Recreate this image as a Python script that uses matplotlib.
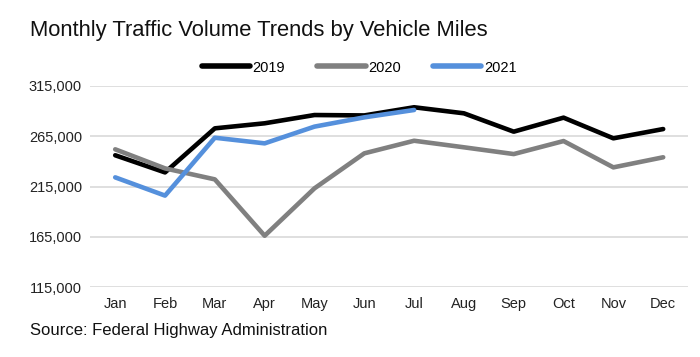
import matplotlib
matplotlib.use("Agg")
from matplotlib import pyplot as plt

months = ["Jan", "Feb", "Mar", "Apr", "May", "Jun",
          "Jul", "Aug", "Sep", "Oct", "Nov", "Dec"]
vmt_2019 = [246000, 229000, 272700, 277700, 285900, 285500,
            293600, 287600, 269400, 283300, 262800, 272000]
vmt_2020 = [251900, 233000, 222100, 166200, 213200, 247900,
            260400, 253900, 247200, 260100, 234000, 244000]
vmt_2021 = [224100, 206000, 263400, 257800, 274400, 283600, 290900]
yticks = [115000, 165000, 215000, 265000, 315000]

plt.rcParams["font.family"] = ["Liberation Sans", "DejaVu Sans"]

fig = plt.figure(figsize=(7.0, 3.57), dpi=100)
ax = fig.add_axes([0.129, 0.195, 0.854, 0.565])

x = list(range(len(months)))
ax.plot(x, vmt_2019, color="black", lw=3.3, label="2019", solid_capstyle="round")
ax.plot(x, vmt_2020, color="#808080", lw=3.3, label="2020", solid_capstyle="round")
ax.plot(x[:len(vmt_2021)], vmt_2021, color="#5590DC", lw=3.3, label="2021",
        solid_capstyle="round")

ax.set_xlim(-0.5, len(months) - 0.5)
ax.set_ylim(115000, 315000)
ax.set_yticks(yticks)
ax.set_yticklabels([f"{v:,}" for v in yticks])
ax.set_xticks(x)
ax.set_xticklabels(months)
ax.tick_params(length=0, labelsize=10.5, colors="#222222")
ax.tick_params(axis="y", pad=6)
ax.tick_params(axis="x", pad=7)
ax.grid(axis="y", color="#D9D9D9", lw=1.2)
ax.set_axisbelow(True)
for s in ax.spines.values():
    s.set_visible(False)

leg = ax.legend(loc="lower center", bbox_to_anchor=(0.45, 0.99), ncol=3,
                frameon=False, fontsize=10.5, handlelength=3.3,
                handletextpad=0.2, columnspacing=2.2)
for h in leg.get_lines():
    h.set_linewidth(4)

fig.text(0.043, 0.915, "Monthly Traffic Volume Trends by Vehicle Miles",
         fontsize=15.8, va="center", color="#111111")
fig.text(0.043, 0.073, "Source: Federal Highway Administration",
         fontsize=12, va="center", color="#111111")

fig.savefig("out.png", dpi=100)
